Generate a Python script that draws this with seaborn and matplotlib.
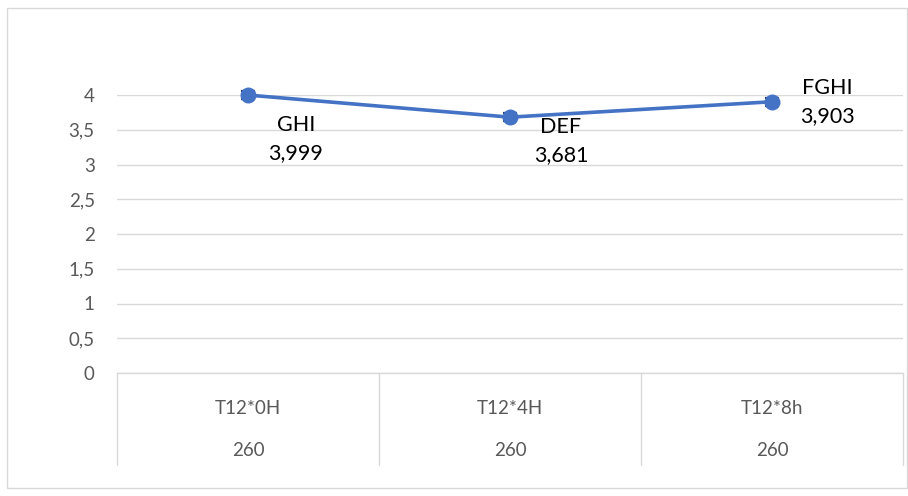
import matplotlib
matplotlib.use("Agg")
import matplotlib.pyplot as plt
import seaborn as sns
import pandas as pd
from matplotlib.patches import Rectangle
from matplotlib.ticker import FuncFormatter

# --- Data ---
categories = ["T12*0H", "T12*4H", "T12*8h"]
counts = [260, 260, 260]
means = [3.999, 3.681, 3.903]
errors = [0.06, 0.06, 0.06]
groups = ["GHI", "DEF", "FGHI"]
y_ticks = [0, 0.5, 1, 1.5, 2, 2.5, 3, 3.5, 4]

# --- Style ---
LINE_COLOR = "#4472C4"
GRID_COLOR = "#D9D9D9"
TEXT_GRAY = "#595959"

sns.set_theme(style="white")
plt.rcParams["font.family"] = ["Lato", "DejaVu Sans"]

df = pd.DataFrame({"pos": range(len(categories)), "mean": means})

fig = plt.figure(figsize=(9.08, 4.96), dpi=100)
ax = fig.add_axes([117 / 908, 1 - 373 / 496, (903 - 117) / 908, (373 - 95) / 496])

eb = ax.errorbar(df["pos"], df["mean"], yerr=errors, fmt="none", ecolor="#203864",
                 elinewidth=1.2, capsize=5, capthick=1.6, zorder=2)
for artist in eb.get_children():
    artist.set_clip_on(False)
sns.lineplot(data=df, x="pos", y="mean", ax=ax, color=LINE_COLOR, linewidth=2.6,
             zorder=3, clip_on=False)
ax.plot(df["pos"], df["mean"], linestyle="none", marker="o", markersize=11.5,
        color=LINE_COLOR, markeredgewidth=0, zorder=4, clip_on=False)

ax.set_xlim(-0.5, 2.5)
ax.set_ylim(0, 4)
ax.set_yticks(y_ticks)
ax.yaxis.set_major_formatter(FuncFormatter(lambda v, _: f"{v:g}".replace(".", ",")))
ax.tick_params(axis="y", length=0, pad=16, labelsize=13.5, labelcolor=TEXT_GRAY)
ax.set_xticks([])
ax.set_xlabel("")
ax.set_ylabel("")
ax.grid(axis="y", color=GRID_COLOR, linewidth=1)
for side in ["top", "right", "left"]:
    ax.spines[side].set_visible(False)
ax.spines["bottom"].set_color(GRID_COLOR)
ax.spines["bottom"].set_linewidth(1)

# data labels
offsets = [(48, -44), (51, -24), (55, 0)]
for i, (g, m) in enumerate(zip(groups, means)):
    ax.annotate(f"{g}\n{m:.3f}".replace(".", ","), (i, m), xytext=offsets[i],
                textcoords="offset pixels", ha="center", va="center",
                fontsize=15.5, color="black", linespacing=1.5, annotation_clip=False)

# category table under the axis
trans = ax.get_xaxis_transform()
table_bottom = -(465 - 373) / 278
for x in [-0.5, 0.5, 1.5, 2.5]:
    ax.plot([x, x], [0, table_bottom], color=GRID_COLOR, linewidth=1,
            transform=trans, clip_on=False)
for i, (c, n) in enumerate(zip(categories, counts)):
    ax.text(i, -(409 - 373) / 278, c, transform=trans, ha="center", va="center",
            fontsize=13.5, color=TEXT_GRAY)
    ax.text(i, -(451 - 373) / 278, str(n), transform=trans, ha="center", va="center",
            fontsize=13.5, color=TEXT_GRAY)

# chart border
fig.patches.append(Rectangle((7 / 908, 8 / 496), 900 / 908, 480 / 496,
                             transform=fig.transFigure, fill=False,
                             edgecolor=GRID_COLOR, linewidth=1))

fig.savefig("out.png", dpi=100)
